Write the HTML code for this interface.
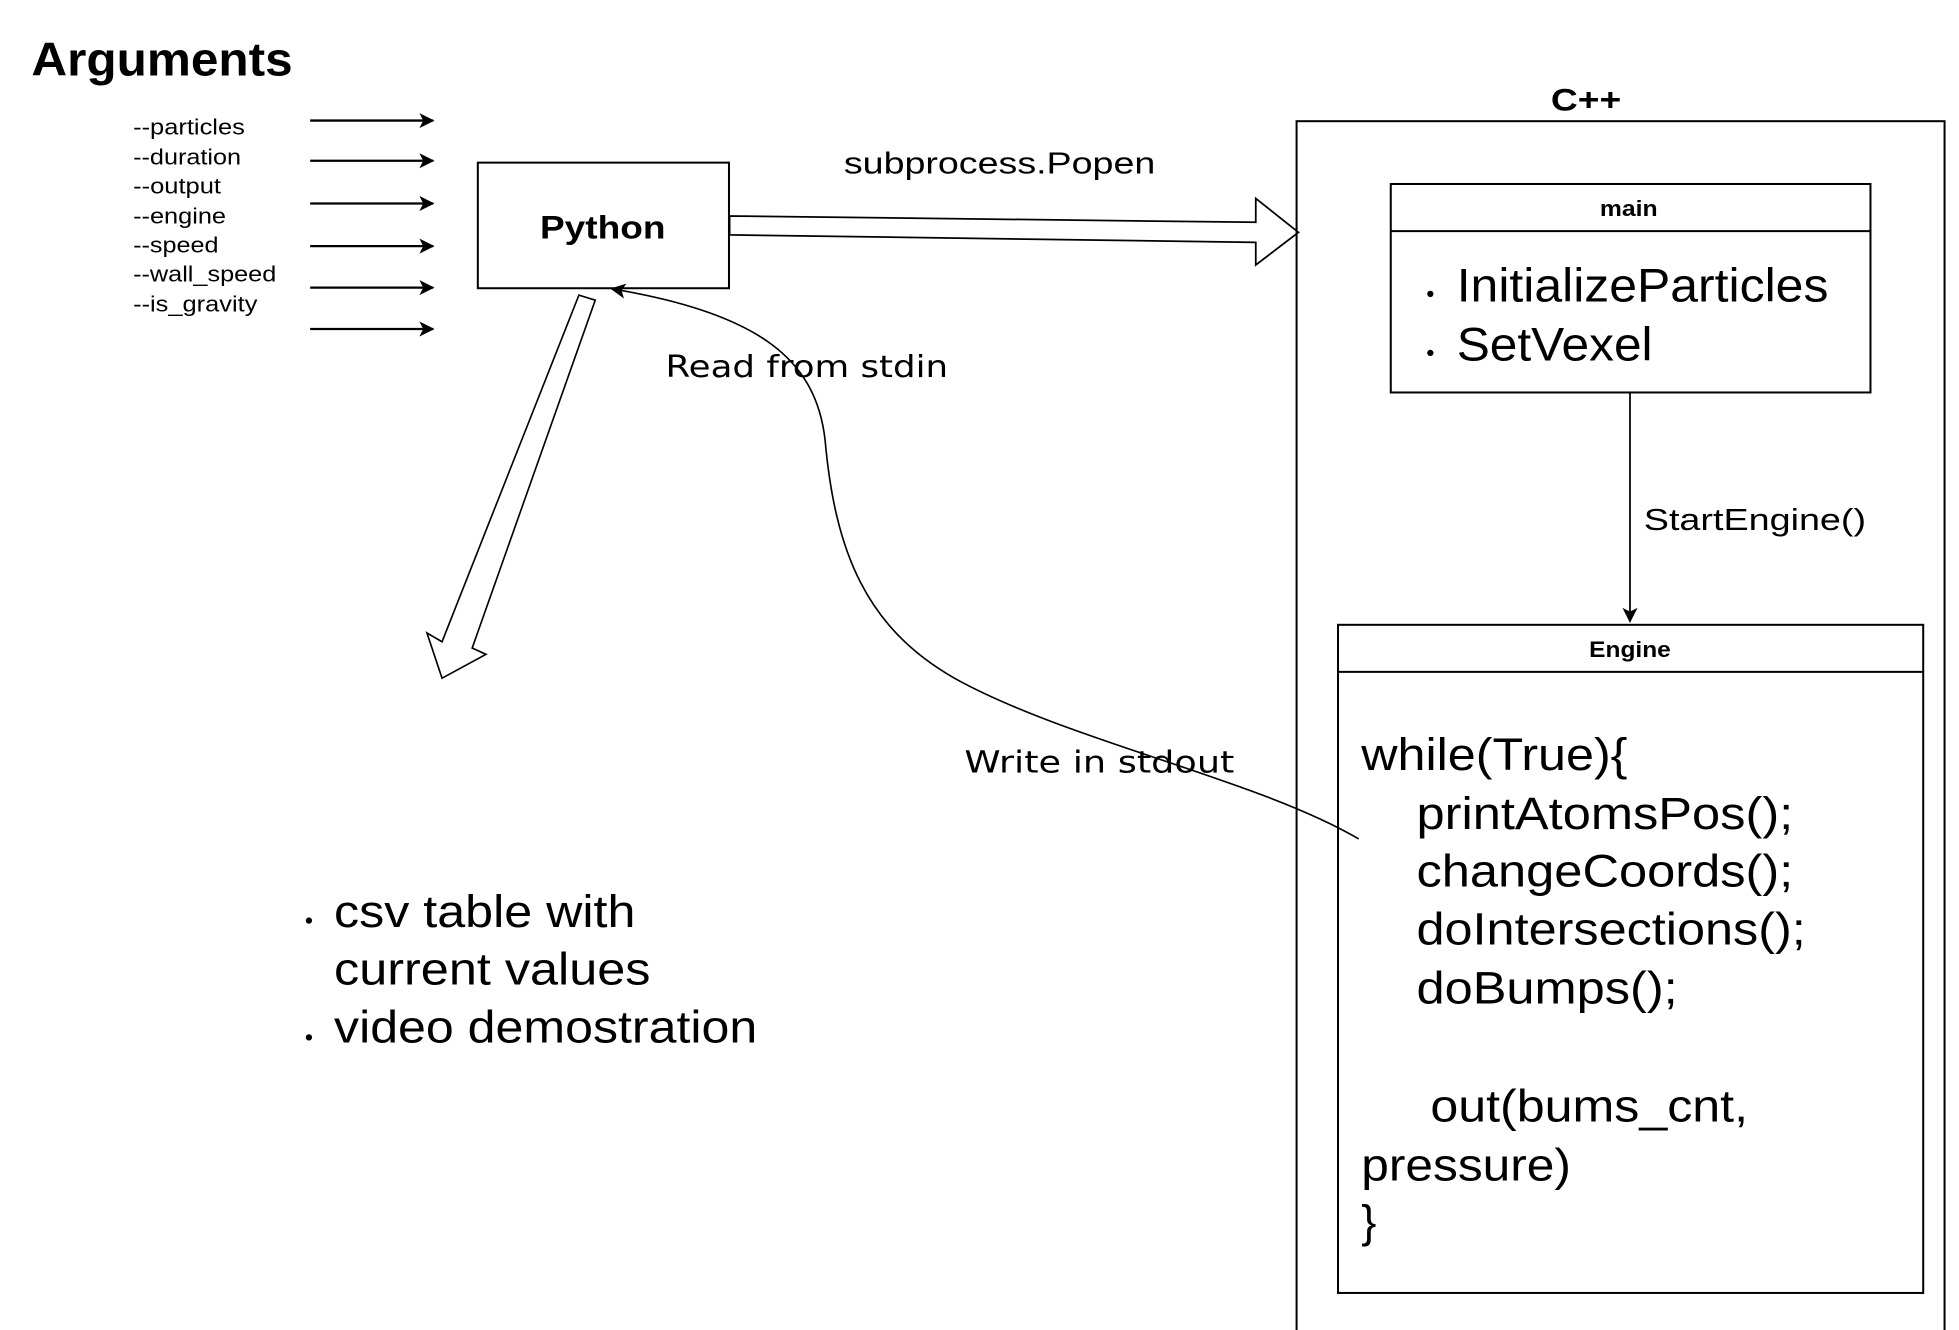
<!DOCTYPE html>
<html><head><meta charset="utf-8"><style>html,body{margin:0;padding:0;background:#fff}svg{display:block}</style></head>
<body>
<svg width="1959" height="1330" viewBox="0 0 1560 1059" preserveAspectRatio="none" xmlns="http://www.w3.org/2000/svg" font-family="Liberation Sans, sans-serif">
<defs>
<marker id="ah" markerWidth="12" markerHeight="12" refX="11" refY="6" orient="auto" markerUnits="userSpaceOnUse">
<path d="M0,0 L12,6 L0,12 L3,6 Z" fill="#000"/></marker>
</defs>
<rect width="1560" height="1059" fill="#fff"/>
<text x="25" y="60" font-size="38" font-weight="bold" textLength="208" lengthAdjust="spacingAndGlyphs">Arguments</text>
<g font-size="18">
<text x="106" y="107" textLength="89" lengthAdjust="spacingAndGlyphs">--particles</text>
<text x="106" y="131" textLength="86" lengthAdjust="spacingAndGlyphs">--duration</text>
<text x="106" y="154" textLength="70" lengthAdjust="spacingAndGlyphs">--output</text>
<text x="106" y="178" textLength="74" lengthAdjust="spacingAndGlyphs">--engine</text>
<text x="106" y="201" textLength="68" lengthAdjust="spacingAndGlyphs">--speed</text>
<text x="106" y="224" textLength="114" lengthAdjust="spacingAndGlyphs">--wall_speed</text>
<text x="106" y="248" textLength="99" lengthAdjust="spacingAndGlyphs">--is_gravity</text>
</g>
<g stroke="#000" stroke-width="1.8" marker-end="url(#ah)">
<line x1="247" y1="96" x2="345" y2="96"/>
<line x1="247" y1="128" x2="345" y2="128"/>
<line x1="247" y1="162" x2="345" y2="162"/>
<line x1="247" y1="196" x2="345" y2="196"/>
<line x1="247" y1="229" x2="345" y2="229"/>
<line x1="247" y1="262" x2="345" y2="262"/>
</g>
<rect x="380.5" y="129.5" width="200" height="100" fill="none" stroke="#000" stroke-width="1.6"/>
<text x="480" y="190" font-size="26" font-weight="bold" text-anchor="middle" textLength="100" lengthAdjust="spacingAndGlyphs">Python</text>
<text x="672" y="138" font-size="24" textLength="248" lengthAdjust="spacingAndGlyphs">subprocess.Popen</text>
<polygon points="581,172 1000,177 1000,158 1034,185 1000,211 1000,193 581,187" fill="#fff" stroke="#000" stroke-width="1.4"/>
<text x="1263" y="88" font-size="25" font-weight="bold" text-anchor="middle" textLength="56" lengthAdjust="spacingAndGlyphs">C++</text>
<rect x="1032.5" y="96.5" width="516" height="966" fill="none" stroke="#000" stroke-width="1.6"/>
<rect x="1107.5" y="146.5" width="382" height="166" fill="none" stroke="#000" stroke-width="1.6"/>
<line x1="1107" y1="184" x2="1490" y2="184" stroke="#000" stroke-width="1.6"/>
<text x="1297" y="172" font-size="18" font-weight="bold" text-anchor="middle" textLength="46" lengthAdjust="spacingAndGlyphs">main</text>
<circle cx="1139" cy="234" r="2.5"/><circle cx="1139" cy="281" r="2.5"/>
<text x="1160" y="240" font-size="38" textLength="296" lengthAdjust="spacingAndGlyphs">InitializeParticles</text>
<text x="1160" y="287" font-size="38" textLength="156" lengthAdjust="spacingAndGlyphs">SetVexel</text>
<line x1="1298" y1="313" x2="1298" y2="495" stroke="#000" stroke-width="1.4" marker-end="url(#ah)"/>
<text x="1309" y="422" font-size="24" textLength="177" lengthAdjust="spacingAndGlyphs">StartEngine()</text>
<rect x="1065.5" y="497.5" width="466" height="532" fill="none" stroke="#000" stroke-width="1.6"/>
<line x1="1065" y1="535" x2="1532" y2="535" stroke="#000" stroke-width="1.6"/>
<text x="1298" y="523" font-size="18" font-weight="bold" text-anchor="middle" textLength="65" lengthAdjust="spacingAndGlyphs">Engine</text>
<g font-size="36">
<text x="1084" y="613" textLength="212" lengthAdjust="spacingAndGlyphs">while(True){</text>
<text x="1128" y="660" textLength="300" lengthAdjust="spacingAndGlyphs">printAtomsPos();</text>
<text x="1128" y="706" textLength="300" lengthAdjust="spacingAndGlyphs">changeCoords();</text>
<text x="1128" y="752" textLength="310" lengthAdjust="spacingAndGlyphs">doIntersections();</text>
<text x="1128" y="799" textLength="208" lengthAdjust="spacingAndGlyphs">doBumps();</text>
<text x="1139" y="893" textLength="253" lengthAdjust="spacingAndGlyphs">out(bums_cnt,</text>
<text x="1084" y="940" textLength="167" lengthAdjust="spacingAndGlyphs">pressure)</text>
<text x="1084" y="985">}</text>
</g>
<polygon points="461,235 474,239 376,516 387,521 352,540 340,504 352,511" fill="#fff" stroke="#000" stroke-width="1.3"/>
<path d="M1082,668 C1000,620 850,590 760,540 C690,500 665,440 657,350 C650,290 610,250 487,230" fill="none" stroke="#000" stroke-width="1.3" marker-end="url(#ah)"/>
<text x="530" y="300" font-size="24" font-family="DejaVu Sans, sans-serif" textLength="225" lengthAdjust="spacingAndGlyphs">Read from stdin</text>
<text x="768" y="615" font-size="24" font-family="DejaVu Sans, sans-serif" textLength="215" lengthAdjust="spacingAndGlyphs">Write in stdout</text>
<circle cx="246" cy="733" r="2.5"/><circle cx="246" cy="826" r="2.5"/>
<g font-size="36">
<text x="266" y="738" textLength="240" lengthAdjust="spacingAndGlyphs">csv table with</text>
<text x="266" y="784" textLength="252" lengthAdjust="spacingAndGlyphs">current values</text>
<text x="266" y="830" textLength="337" lengthAdjust="spacingAndGlyphs">video demostration</text>
</g>
</svg>
</body></html>
